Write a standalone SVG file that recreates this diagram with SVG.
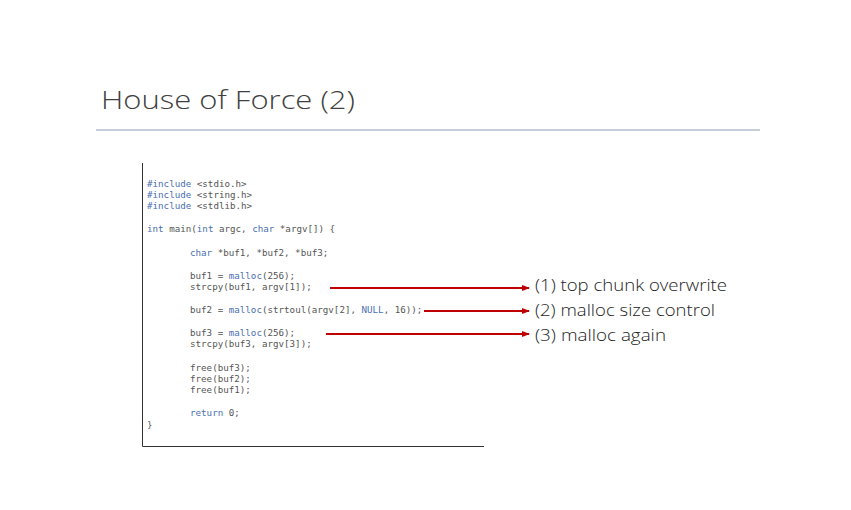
<svg xmlns="http://www.w3.org/2000/svg" width="851" height="510" viewBox="0 0 851 510">
<style>
.code{font-family:"DejaVu Sans Mono",monospace;font-size:9.2px;fill:#555}
.kw{fill:#4a6fb0}
.lbl{font-family:"Open Sans","Noto Sans",sans-serif;font-weight:300;font-size:17px;fill:#222}
.arr{stroke:#c00000;stroke-width:2;fill:none;marker-end:url(#ah)}
</style>
<defs><marker id="ah" markerWidth="8" markerHeight="8" refX="7" refY="4" orient="auto" markerUnits="userSpaceOnUse"><path d="M0,1 L8,4 L0,7 Z" fill="#c00000"/></marker></defs>
<rect width="851" height="510" fill="#fff"/>
<text x="101" y="109" font-family="'Open Sans','Noto Sans',sans-serif" font-weight="300" font-size="26" fill="#404040" textLength="254" lengthAdjust="spacingAndGlyphs">House of Force (2)</text>
<line x1="96" y1="130" x2="760" y2="130" stroke="#8a9bb5" stroke-width="1"/>
<g id="code">
<path d="M142.5,163 V446.5 H484" stroke="#333" fill="none"/>
<text class="code" x="147" y="187"><tspan class="kw">#include</tspan> &lt;stdio.h&gt;</text>
<text class="code" x="147" y="198"><tspan class="kw">#include</tspan> &lt;string.h&gt;</text>
<text class="code" x="147" y="209"><tspan class="kw">#include</tspan> &lt;stdlib.h&gt;</text>
<text class="code" x="147" y="232"><tspan class="kw">int</tspan> main(<tspan class="kw">int</tspan> argc, <tspan class="kw">char</tspan> *argv[]) {</text>
<text class="code" x="190" y="256"><tspan class="kw">char</tspan> *buf1, *buf2, *buf3;</text>
<text class="code" x="190" y="279">buf1 = <tspan class="kw">malloc</tspan>(256);</text>
<text class="code" x="190" y="290">strcpy(buf1, argv[1]);</text>
<text class="code" x="190" y="313">buf2 = <tspan class="kw">malloc</tspan>(strtoul(argv[2], <tspan class="kw">NULL</tspan>, 16));</text>
<text class="code" x="190" y="336">buf3 = <tspan class="kw">malloc</tspan>(256);</text>
<text class="code" x="190" y="347">strcpy(buf3, argv[3]);</text>
<text class="code" x="190" y="371">free(buf3);</text>
<text class="code" x="190" y="382">free(buf2);</text>
<text class="code" x="190" y="393">free(buf1);</text>
<text class="code" x="190" y="416"><tspan class="kw">return</tspan> 0;</text>
<text class="code" x="147" y="428">}</text>
</g>
<g id="connectors">
<line class="arr" x1="330" y1="288" x2="529" y2="288"/>
<line class="arr" x1="424" y1="311" x2="529" y2="311"/>
<line class="arr" x1="326" y1="334" x2="529" y2="334"/>
</g>
<g id="labels">
<text class="lbl" x="535" y="291" textLength="192" lengthAdjust="spacingAndGlyphs">(1) top chunk overwrite</text>
<text class="lbl" x="535" y="316" textLength="180" lengthAdjust="spacingAndGlyphs">(2) malloc size control</text>
<text class="lbl" x="535" y="341" textLength="131" lengthAdjust="spacingAndGlyphs">(3) malloc again</text>
</g>
</svg>
